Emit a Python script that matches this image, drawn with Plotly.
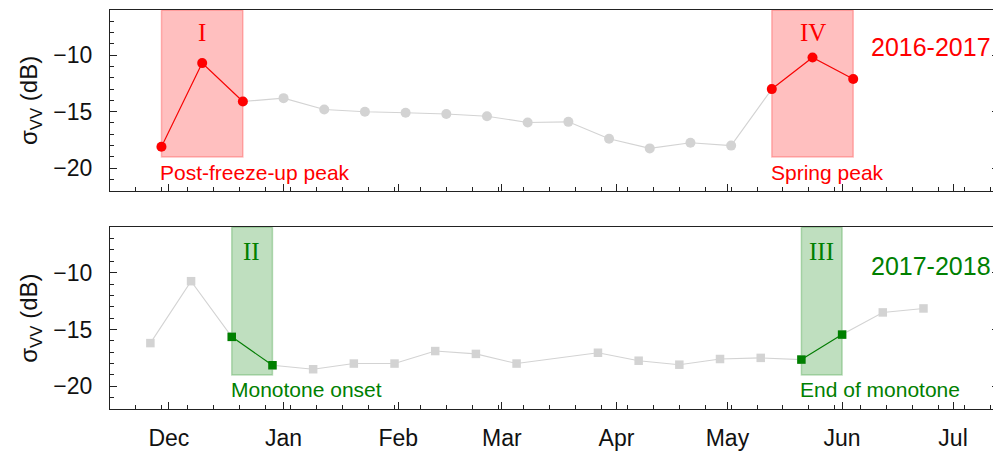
"""Backscatter time series for two winters with highlighted periods."""

import plotly.graph_objects as go
from plotly.subplots import make_subplots

# 2016-2017 season (circles)
dates_1617 = [
    "2016-11-29", "2016-12-10", "2016-12-21", "2017-01-01", "2017-01-12",
    "2017-01-23", "2017-02-03", "2017-02-14", "2017-02-25", "2017-03-08",
    "2017-03-19", "2017-03-30", "2017-04-10", "2017-04-21", "2017-05-02",
    "2017-05-13", "2017-05-24", "2017-06-04",
]
sigma_1617 = [
    -18.1, -10.7, -14.1, -13.8, -14.8, -15.0, -15.1, -15.2, -15.4, -15.95,
    -15.9, -17.4, -18.25, -17.75, -18.0, -13.0, -10.2, -12.1,
]

# 2017-2018 season (squares)
dates_1718 = [
    "2017-11-26", "2017-12-07", "2017-12-18", "2017-12-29", "2018-01-09",
    "2018-01-20", "2018-01-31", "2018-02-11", "2018-02-22", "2018-03-05",
    "2018-03-27", "2018-04-07", "2018-04-18", "2018-04-29", "2018-05-10",
    "2018-05-21", "2018-06-01", "2018-06-12", "2018-06-23",
]
sigma_1718 = [
    -16.2, -10.75, -15.65, -18.15, -18.5, -18.0, -18.0, -16.9, -17.15, -18.0,
    -17.05, -17.75, -18.1, -17.6, -17.5, -17.65, -15.45, -13.5, -13.15,
]

# highlighted periods: (first index, last index, numeral, caption)
periods_1617 = [(0, 2, "I", "Post-freeze-up peak"), (15, 17, "IV", "Spring peak")]
periods_1718 = [(2, 3, "II", "Monotone onset"), (15, 16, "III", "End of monotone")]

season_labels = ["2016-2017", "2017-2018"]
x_ranges = [
    ["2016-11-15 02:00", "2017-07-13 10:00"],
    ["2017-11-15 02:00", "2018-07-13 10:00"],
]
minor_tick0 = ["2016-11-29", "2017-11-29"]
SPAN_BOTTOM = -19
Y_RANGE = [-22, -6]

RED = "#ff0000"
GREEN = "#008000"
GREY = "#d3d3d3"
FONT = "Liberation Sans, Arial, sans-serif"
SERIF = "Liberation Serif, Times New Roman, serif"

fig = make_subplots(rows=2, cols=1)

panels = [
    (dates_1617, sigma_1617, periods_1617, RED, "rgba(255,0,0,0.25)", "circle", 10),
    (dates_1718, sigma_1718, periods_1718, GREEN, "rgba(0,128,0,0.25)", "square", 8.5),
]

span_frac = (SPAN_BOTTOM - Y_RANGE[0]) / (Y_RANGE[1] - Y_RANGE[0])

for row, (dates, sigma, periods, color, fill, symbol, msize) in enumerate(panels, start=1):
    # background series
    fig.add_trace(
        go.Scatter(
            x=dates, y=sigma, mode="lines+markers",
            line=dict(color=GREY, width=1.1),
            marker=dict(symbol=symbol, size=msize, color=GREY),
            showlegend=False, hoverinfo="skip",
        ),
        row=row, col=1,
    )
    xref = "x" if row == 1 else "x2"
    yref = "y" if row == 1 else "y2"
    for i0, i1, numeral, caption in periods:
        fig.add_shape(
            type="rect", xref=xref, yref=f"{yref} domain",
            x0=dates[i0], x1=dates[i1], y0=span_frac, y1=1,
            fillcolor=fill, line=dict(color=fill, width=1.5), layer="below",
        )
        fig.add_trace(
            go.Scatter(
                x=dates[i0:i1 + 1], y=sigma[i0:i1 + 1], mode="lines+markers",
                line=dict(color=color, width=1.2),
                marker=dict(symbol=symbol, size=msize, color=color),
                showlegend=False, hoverinfo="skip",
            ),
            row=row, col=1,
        )
        # numeral sits at the middle of the span
        even = (i1 - i0) % 2 == 0
        fig.add_annotation(
            xref=xref, yref=yref,
            x=dates[(i0 + i1) // 2] if even else dates[i0],
            xshift=0 if even else 20,
            y=-8.0 if row == 1 else -8.1, text=numeral, showarrow=False,
            font=dict(family=SERIF, size=25, color=color),
        )
        fig.add_annotation(
            xref=xref, yref=yref, x=dates[i0], y=-20.4 if row == 1 else -20.3,
            text=caption, showarrow=False, xanchor="left", xshift=-3,
            font=dict(family=FONT, size=21, color=color),
        )
    fig.add_annotation(
        xref=f"{xref} domain", yref=f"{yref} domain",
        x=0.9935, y=0.885 if row == 1 else 0.876, text=season_labels[row - 1],
        showarrow=False, xanchor="right",
        font=dict(family=FONT, size=25, color=color),
    )
    # invisible point so the right-hand tick axis gets drawn
    fig.add_trace(
        go.Scatter(
            x=[dates[0]], y=[sigma[0]], mode="markers",
            marker=dict(opacity=0), showlegend=False, hoverinfo="skip",
            xaxis=xref, yaxis="y3" if row == 1 else "y4",
        )
    )

axis_common = dict(
    showline=True, linecolor="#222", linewidth=1.3, mirror=True,
    showgrid=False, zeroline=False,
    ticks="inside", ticklen=7, tickwidth=1.2, tickcolor="#222",
    tickfont=dict(family=FONT, size=23, color="#111"),
)

for row in (1, 2):
    xa = "xaxis" if row == 1 else "xaxis2"
    ya = "yaxis" if row == 1 else "yaxis2"
    fig.layout[xa].update(
        type="date", range=x_ranges[row - 1],
        dtick="M1", tick0=x_ranges[row - 1][0][:4] + "-12-01", tickformat="%b",
        showticklabels=(row == 2), ticklabelstandoff=8,
        minor=dict(ticks="inside", ticklen=3.5, tickwidth=1.1, tickcolor="#222",
                   dtick=7 * 86400000, tick0=minor_tick0[row - 1]),
        **axis_common,
    )
    fig.layout[ya].update(
        range=Y_RANGE, dtick=5, tick0=0, ticklabelstandoff=12,
        minor=dict(ticks="inside", ticklen=3.5, tickwidth=1.1, tickcolor="#222", dtick=1),
        title=dict(text="σ<sub>VV</sub> (dB)", standoff=8,
                   font=dict(family=FONT, size=24, color="#111")),
        **axis_common,
    )

# right-hand major ticks only
right_ticks = dict(
    side="right", range=Y_RANGE, dtick=5, tick0=0, ticks="inside", ticklen=7,
    tickwidth=1.2, tickcolor="#222", showticklabels=False, showgrid=False,
    zeroline=False, showline=False,
)

# the page adds an 8px body margin, so the figure is 8px smaller than the window
fig.update_layout(
    width=993, height=444,
    margin=dict(l=102, r=1, t=1, b=42),
    paper_bgcolor="white", plot_bgcolor="white",
    yaxis=dict(domain=[0.5469, 1.0]),
    yaxis2=dict(domain=[0.0, 0.4556]),
    yaxis3=dict(overlaying="y", anchor="x", **right_ticks),
    yaxis4=dict(overlaying="y2", anchor="x2", **right_ticks),
)

fig.write_html("out.html")
